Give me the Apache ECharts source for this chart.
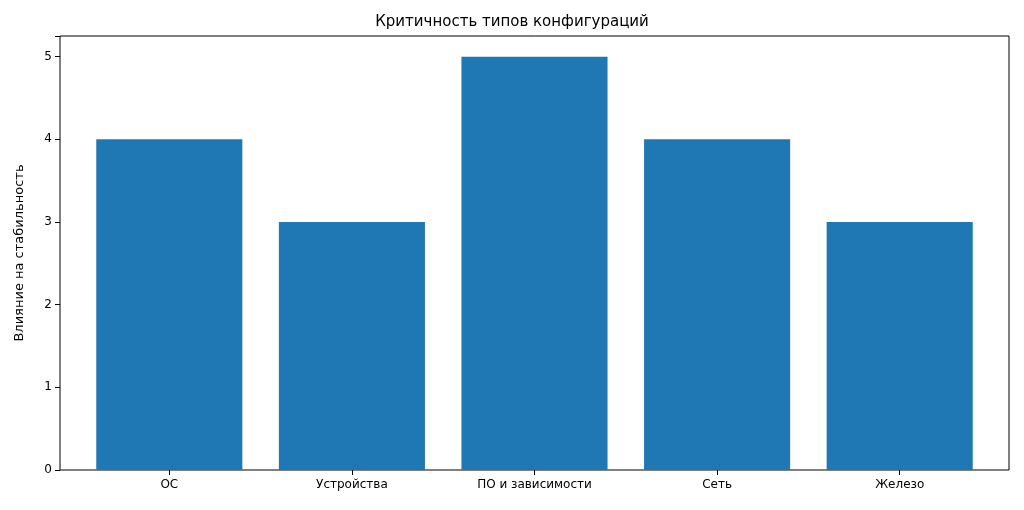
<!DOCTYPE html>
<html><head><meta charset="utf-8">
<script src="https://cdn.jsdelivr.net/npm/echarts@6/dist/echarts.min.js"></script>
<style>body{margin:0}#c{width:1024px;height:510px}</style>
</head><body><div id="c"></div>
<script>
const categories = ['ОС', 'Устройства', 'ПО и зависимости', 'Сеть', 'Железо']
const values = [4, 3, 5, 4, 3]
const yTicks = [0, 1, 2, 3, 4, 5]

const chart = echarts.init(document.getElementById('c'))
const font = 'DejaVu Sans'
chart.setOption({
  animation: false,
  textStyle: {fontFamily: font},
  title: {text: 'Критичность типов конфигураций', left: 'center', top: 10,
    textStyle: {fontFamily: font, fontSize: 15, fontWeight: 'normal', color: '#000'}},
  graphic: [{type: 'rect', shape: {x: 60, y: 36, width: 949, height: 434},
    style: {fill: 'none', stroke: '#000', lineWidth: 1}, silent: true}],
  grid: {left: 78, right: 33, top: 36, bottom: 40},
  xAxis: {type: 'category', data: categories,
    axisLine: {show: false},
    axisTick: {show: true, alignWithLabel: true, length: 5, lineStyle: {color: '#000'}},
    axisLabel: {color: '#000', fontSize: 12, margin: 9}},
  yAxis: {type: 'value', min: 0, max: 5.25, interval: 1, offset: 18,
    name: 'Влияние на стабильность', nameLocation: 'middle', nameGap: 34,
    nameTextStyle: {color: '#000', fontSize: 13},
    splitLine: {show: false},
    axisLine: {show: false},
    axisTick: {show: true, length: 5, lineStyle: {color: '#000'}},
    axisLabel: {color: '#000', fontSize: 12, margin: 8,
      formatter: v => yTicks.includes(v) ? String(v) : ''}},
  series: [{type: 'bar', data: values, barCategoryGap: '20%',
    itemStyle: {color: '#1f77b4'}}]
})
</script></body></html>
